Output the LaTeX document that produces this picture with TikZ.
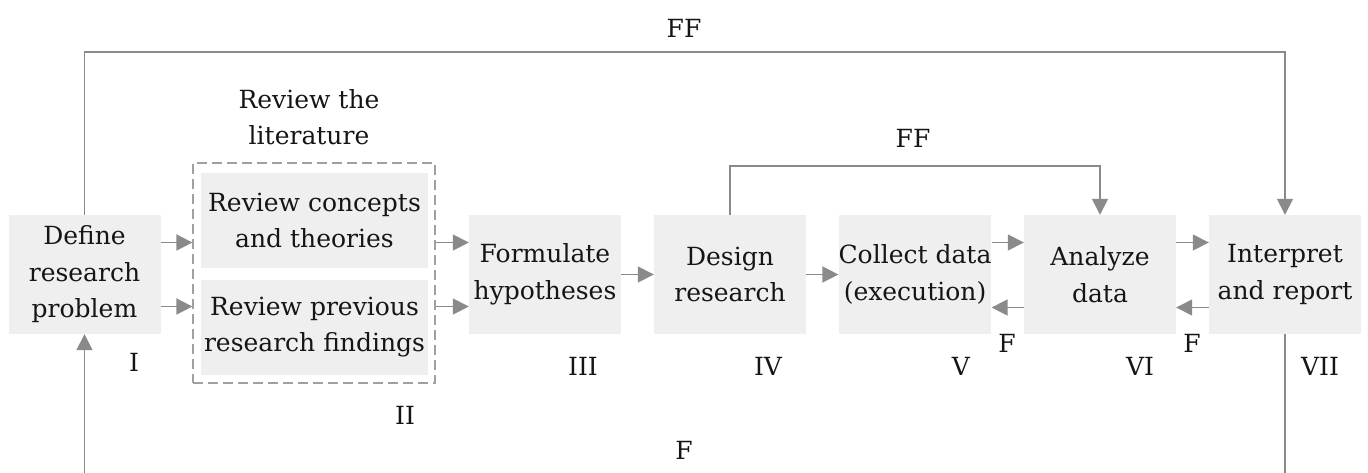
\documentclass[tikz,border=0pt]{standalone}
\usepackage{fontspec}
\setmainfont{DejaVu Serif}
\usetikzlibrary{arrows.meta,calc}
\definecolor{boxfill}{HTML}{EFEFEF}
\definecolor{linegray}{HTML}{8A8A8A}
\definecolor{dashgray}{HTML}{A0A0A0}
\definecolor{ink}{HTML}{151515}
\begin{document}
\begin{tikzpicture}[x=1pt, y=-1pt,
  every node/.style={text=ink, font=\fontsize{25}{36.5}\selectfont},
  stage/.style={fill=boxfill, minimum width=152pt, minimum height=119pt, inner sep=0pt, align=center},
  subbox/.style={fill=boxfill, minimum width=227pt, minimum height=95pt, inner sep=0pt, align=center},
  groupbox/.style={draw=dashgray, dash pattern=on 10pt off 5pt, line width=1.2pt,
                   minimum width=242pt, minimum height=220pt, inner sep=0pt},
  link/.style={draw=linegray, line width=1.5pt},
  arr/.style={link, -{Triangle[length=16pt,width=16pt]}},
  tag/.style={inner sep=0pt}]

\useasboundingbox (0,0) rectangle (1368,472);
\clip (0,0) rectangle (1368,472);

% process stages
\node[stage] (def)  at (84.5,274.5) {Define\\research\\problem};
\node[groupbox] (lit) at (314,273) {};
\node[subbox] (conc) at (314.5,220.5) {Review concepts\\and theories};
\node[subbox] (prev) at (314.5,327) {Review previous\\research findings};
\node[align=center, inner sep=0pt] (littitle) at (309,117) {Review the\\literature};
\node[stage] (form) at (545,274.5)  {Formulate\\hypotheses};
\node[stage] (des)  at (730,274.5)  {Design\\research};
\node[stage] (coll) at (915,274.5)  {Collect data\\(execution)};
\node[stage] (ana)  at (1100,274.5) {Analyze\\data};
\node[stage] (int)  at (1285,274.5) {Interpret\\and report};

% stage numbers
\node[tag] (nI)   at (134,362)  {I};
\node[tag] (nII)  at (405,415)  {II};
\node[tag] (nIII) at (583,366)  {III};
\node[tag] (nIV)  at (768,366)  {IV};
\node[tag] (nV)   at (961,366)  {V};
\node[tag] (nVI)  at (1140,366) {VI};
\node[tag] (nVII) at (1320,366) {VII};

% feedback labels
\node[tag] (fb1)  at (1007,343) {F};
\node[tag] (fb2)  at (1192,343) {F};
\node[tag] (ffin) at (913,138)  {FF};
\node[tag] (ffout) at (684,28)  {FF};
\node[tag] (fbot) at (684,450)  {F};

% forward flow
\coordinate (d1) at ($(def.east)+(0,-32)$);
\coordinate (d2) at ($(def.east)+(0,32)$);
\draw[arr] (d1) -- (d1 -| lit.west);
\draw[arr] (d2) -- (d2 -| lit.west);
\draw[arr] (d1 -| lit.east) -- (d1 -| form.west);
\draw[arr] (d2 -| lit.east) -- (d2 -| form.west);
\draw[arr] (form.east) -- (des.west);
\draw[arr] (des.east) -- (coll.west);

\coordinate (c1) at ($(coll.east)+(0,-32)$);
\coordinate (c2) at ($(coll.east)+(0,33)$);
\draw[arr] (c1) -- (c1 -| ana.west);
\draw[arr] (c2 -| ana.west) -- (c2);
\draw[arr] (c1 -| ana.east) -- (c1 -| int.west);
\draw[arr] (c2 -| int.west) -- (c2 -| ana.east);

% feed-forward loops
\draw[arr] (des.north) -- ++(0,-49) -| (ana.north);
\draw[arr] (def.north) -- ++(0,-163) -| (int.north);

% feedback loop to the start
\draw[arr] (int.south) -- ++(0,160) -| (def.south);
\end{tikzpicture}
\end{document}
